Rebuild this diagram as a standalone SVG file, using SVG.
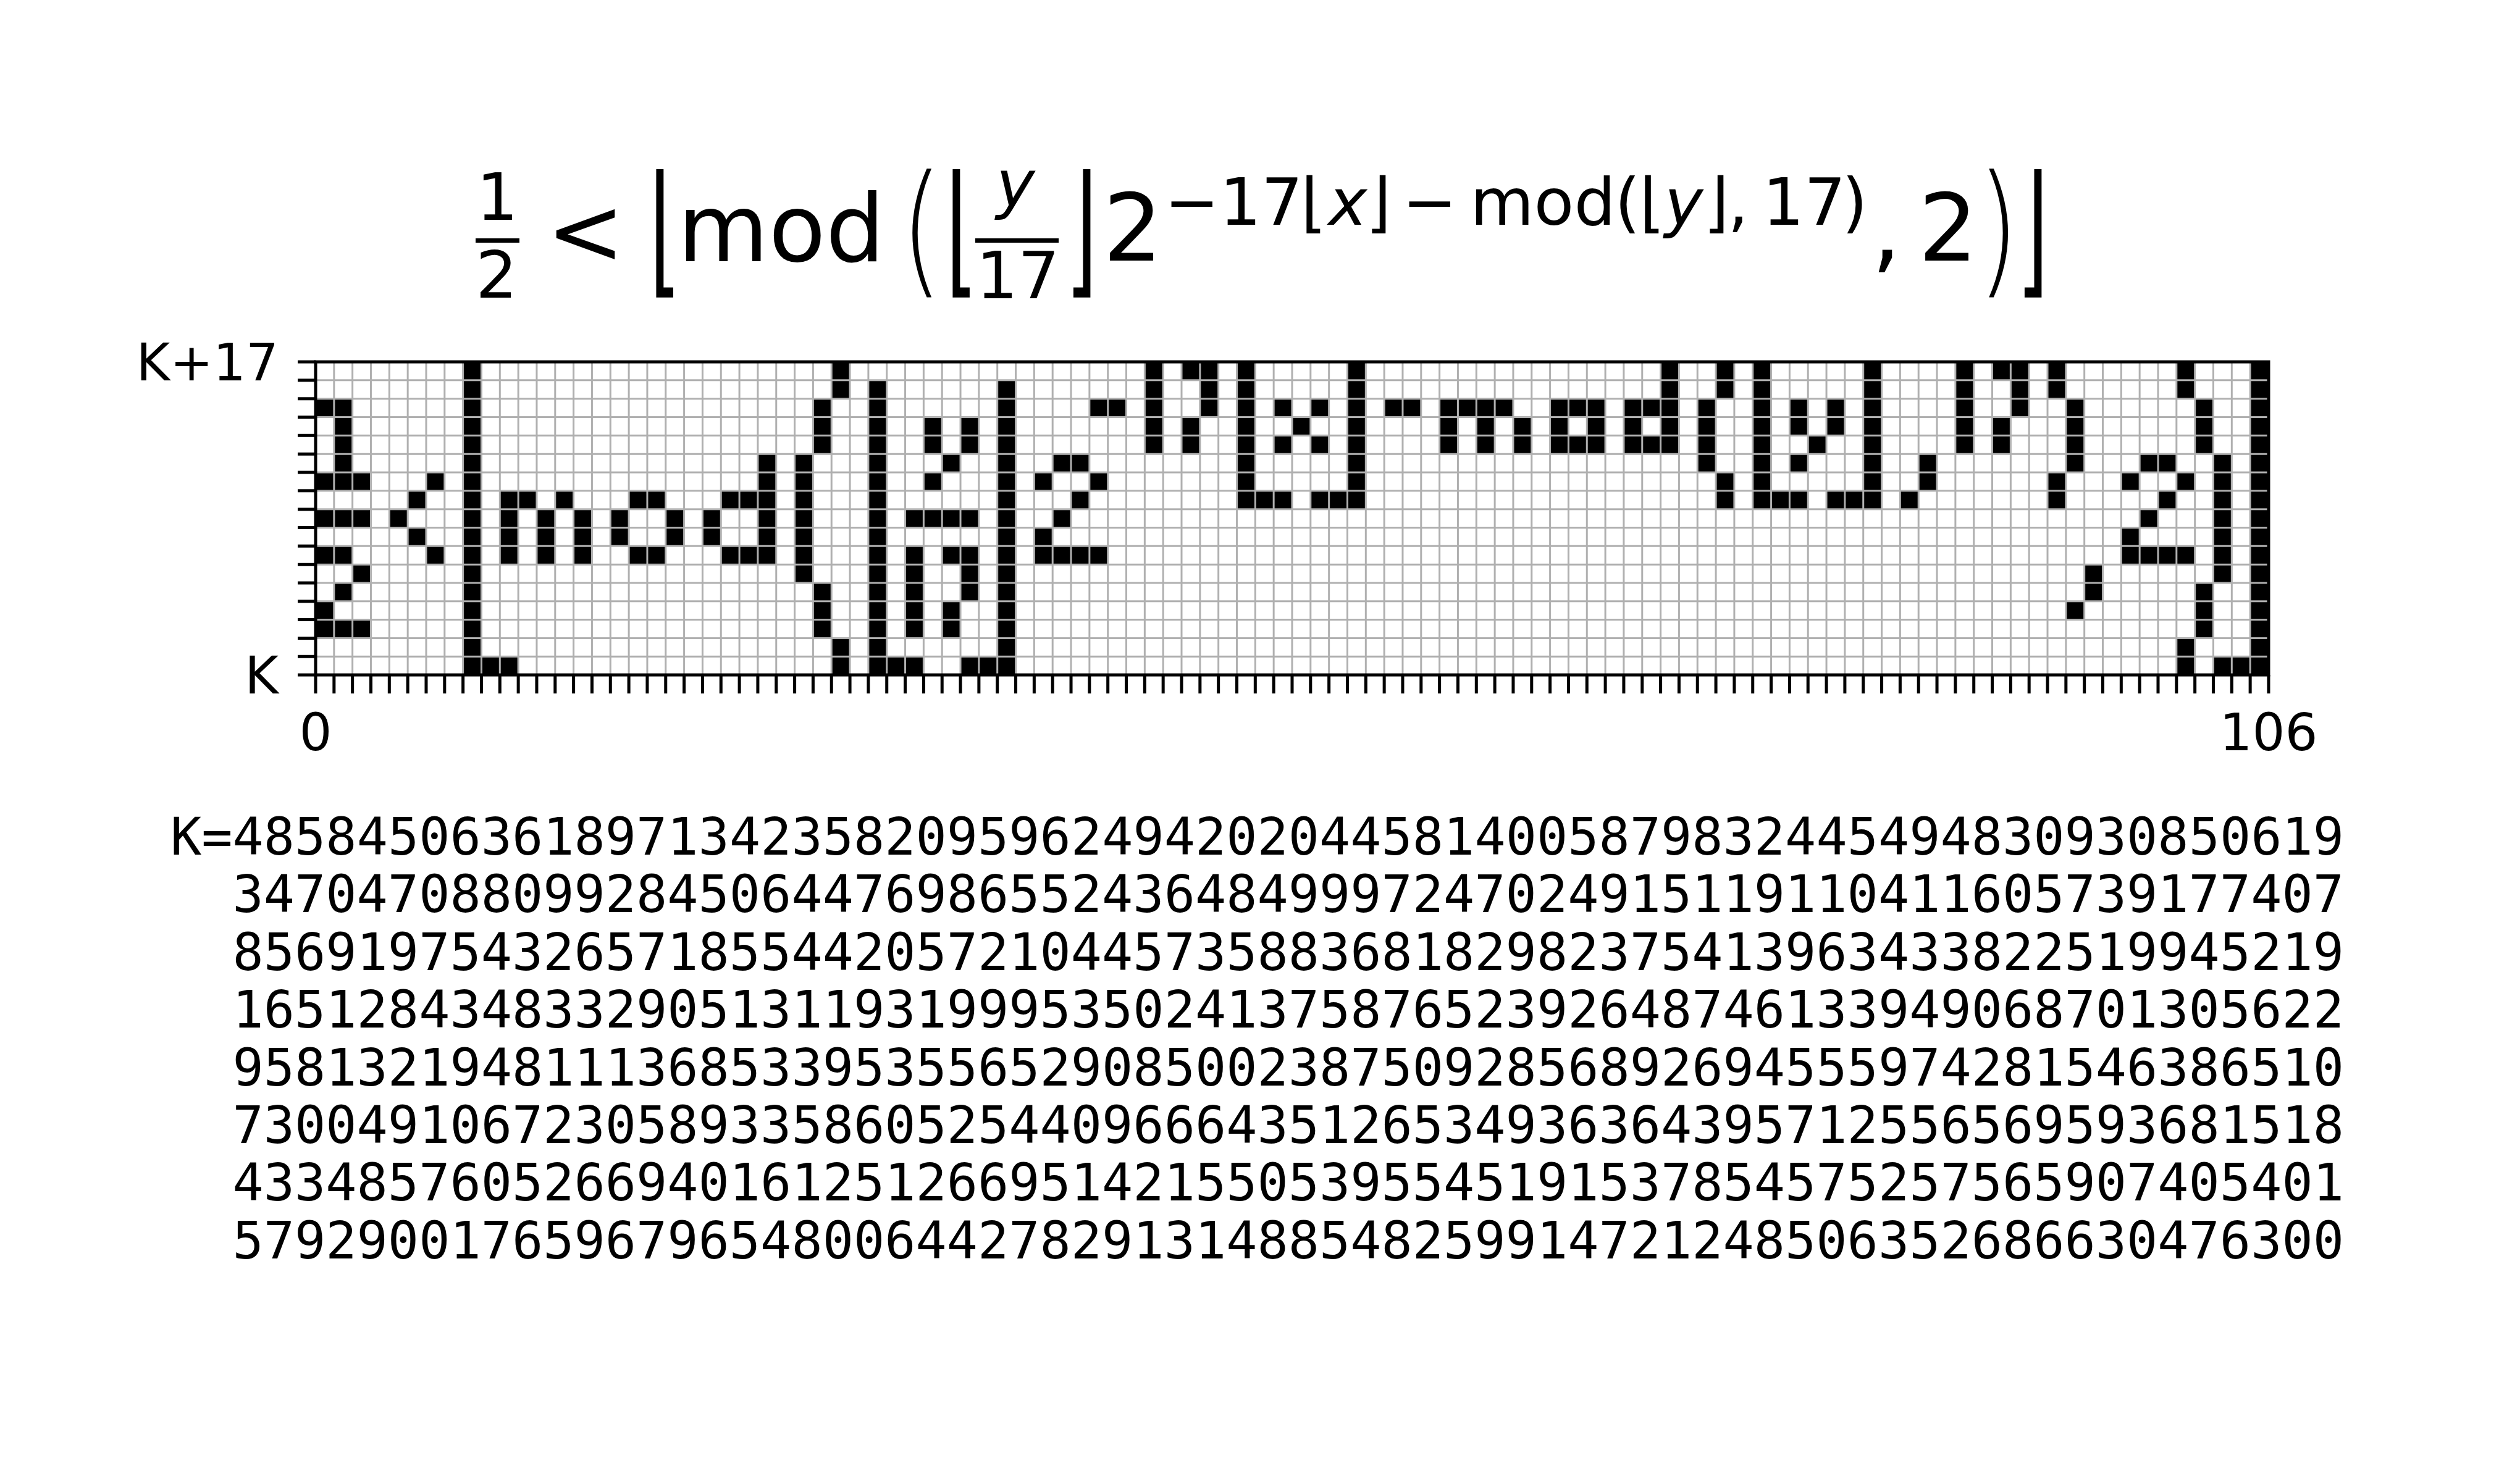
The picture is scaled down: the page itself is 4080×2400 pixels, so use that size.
<svg xmlns="http://www.w3.org/2000/svg" width="4080" height="2400" viewBox="0 0 4080 2400">
<style>
.m{font-family:"DejaVu Sans","Liberation Sans",sans-serif;fill:#000}
.F{font-size:151px}
.S{font-size:106px}
.i{font-style:italic}
.lt{font-weight:200}
.tl{font-family:"DejaVu Sans","Liberation Sans",sans-serif;font-size:83.33px;fill:#000}
.kv{font-family:"DejaVu Sans Mono","Liberation Mono",monospace;font-size:83.5px;fill:#000}
.ns{vector-effect:non-scaling-stroke}
</style>
<rect x="0" y="0" width="4080" height="2400" fill="#fff"/>
<g id="title" text-anchor="middle">
<text class="m S" x="805" y="356">1</text>
<rect x="770" y="386" width="71" height="7" fill="#000"/>
<text class="m S" x="804" y="482">2</text>
<text class="m F" x="948" y="427">&lt;</text>
<text class="m F lt" transform="translate(1077,451) scale(0.88,1.544)">⌊</text>
<text class="m F" x="1265" y="423">mod</text>
<text class="m F lt" transform="translate(1492,451) scale(1.15,1.544)">(</text>
<text class="m F lt" transform="translate(1557,451) scale(0.88,1.544)">⌊</text>
<text class="m S i" x="1644" y="334">y</text>
<rect x="1579" y="386" width="135" height="7" fill="#000"/>
<text class="m S" x="1648" y="483">17</text>
<text class="m F lt" transform="translate(1751,451) scale(0.88,1.544)">⌋</text>
<text class="m F" x="1834" y="422">2</text>
<text class="m S" x="1930" y="364">−</text>
<text class="m S" x="2042" y="364">17</text>
<text class="m S" x="2127" y="364">⌊</text>
<text class="m S i" x="2182" y="364">x</text>
<text class="m S" x="2232" y="364">⌋</text>
<text class="m S" x="2315" y="364">−</text>
<text class="m S" x="2498" y="364">mod</text>
<text class="m S" x="2635" y="364">(</text>
<text class="m S" x="2675" y="364">⌊</text>
<text class="m S i" x="2726" y="364">y</text>
<text class="m S" x="2779" y="364">⌋</text>
<text class="m S" x="2814" y="364">,</text>
<text class="m S" x="2921" y="364">17</text>
<text class="m S" x="3003" y="364">)</text>
<text class="m F" x="3054" y="423">,</text>
<text class="m F" x="3154" y="422">2</text>
<text class="m F lt" transform="translate(3235,451) scale(1.15,1.544)">)</text>
<text class="m F lt" transform="translate(3291,451) scale(0.88,1.544)">⌋</text>
</g>
<g id="plot" transform="translate(511,586) scale(29.83)">
<g id="cells" fill="#000">
<rect x="8" y="0" width="1" height="1"/><rect x="28" y="0" width="1" height="1"/><rect x="45" y="0" width="1" height="1"/><rect x="47" y="0" width="2" height="1"/><rect x="50" y="0" width="1" height="1"/><rect x="56" y="0" width="1" height="1"/><rect x="73" y="0" width="1" height="1"/><rect x="76" y="0" width="1" height="1"/><rect x="78" y="0" width="1" height="1"/><rect x="84" y="0" width="1" height="1"/><rect x="89" y="0" width="1" height="1"/><rect x="91" y="0" width="2" height="1"/><rect x="94" y="0" width="1" height="1"/><rect x="101" y="0" width="1" height="1"/><rect x="105" y="0" width="1" height="1"/>
<rect x="8" y="1" width="1" height="1"/><rect x="28" y="1" width="1" height="1"/><rect x="30" y="1" width="1" height="1"/><rect x="37" y="1" width="1" height="1"/><rect x="45" y="1" width="1" height="1"/><rect x="48" y="1" width="1" height="1"/><rect x="50" y="1" width="1" height="1"/><rect x="56" y="1" width="1" height="1"/><rect x="73" y="1" width="1" height="1"/><rect x="76" y="1" width="1" height="1"/><rect x="78" y="1" width="1" height="1"/><rect x="84" y="1" width="1" height="1"/><rect x="89" y="1" width="1" height="1"/><rect x="92" y="1" width="1" height="1"/><rect x="94" y="1" width="1" height="1"/><rect x="101" y="1" width="1" height="1"/><rect x="105" y="1" width="1" height="1"/>
<rect x="0" y="2" width="2" height="1"/><rect x="8" y="2" width="1" height="1"/><rect x="27" y="2" width="1" height="1"/><rect x="30" y="2" width="1" height="1"/><rect x="37" y="2" width="1" height="1"/><rect x="42" y="2" width="2" height="1"/><rect x="45" y="2" width="1" height="1"/><rect x="48" y="2" width="1" height="1"/><rect x="50" y="2" width="1" height="1"/><rect x="52" y="2" width="1" height="1"/><rect x="54" y="2" width="1" height="1"/><rect x="56" y="2" width="1" height="1"/><rect x="58" y="2" width="2" height="1"/><rect x="61" y="2" width="4" height="1"/><rect x="67" y="2" width="3" height="1"/><rect x="71" y="2" width="3" height="1"/><rect x="75" y="2" width="1" height="1"/><rect x="78" y="2" width="1" height="1"/><rect x="80" y="2" width="1" height="1"/><rect x="82" y="2" width="1" height="1"/><rect x="84" y="2" width="1" height="1"/><rect x="89" y="2" width="1" height="1"/><rect x="92" y="2" width="1" height="1"/><rect x="95" y="2" width="1" height="1"/><rect x="102" y="2" width="1" height="1"/><rect x="105" y="2" width="1" height="1"/>
<rect x="1" y="3" width="1" height="1"/><rect x="8" y="3" width="1" height="1"/><rect x="27" y="3" width="1" height="1"/><rect x="30" y="3" width="1" height="1"/><rect x="33" y="3" width="1" height="1"/><rect x="35" y="3" width="1" height="1"/><rect x="37" y="3" width="1" height="1"/><rect x="45" y="3" width="1" height="1"/><rect x="47" y="3" width="1" height="1"/><rect x="50" y="3" width="1" height="1"/><rect x="53" y="3" width="1" height="1"/><rect x="56" y="3" width="1" height="1"/><rect x="61" y="3" width="1" height="1"/><rect x="63" y="3" width="1" height="1"/><rect x="65" y="3" width="1" height="1"/><rect x="67" y="3" width="1" height="1"/><rect x="69" y="3" width="1" height="1"/><rect x="71" y="3" width="1" height="1"/><rect x="73" y="3" width="1" height="1"/><rect x="75" y="3" width="1" height="1"/><rect x="78" y="3" width="1" height="1"/><rect x="80" y="3" width="1" height="1"/><rect x="82" y="3" width="1" height="1"/><rect x="84" y="3" width="1" height="1"/><rect x="89" y="3" width="1" height="1"/><rect x="91" y="3" width="1" height="1"/><rect x="95" y="3" width="1" height="1"/><rect x="102" y="3" width="1" height="1"/><rect x="105" y="3" width="1" height="1"/>
<rect x="1" y="4" width="1" height="1"/><rect x="8" y="4" width="1" height="1"/><rect x="27" y="4" width="1" height="1"/><rect x="30" y="4" width="1" height="1"/><rect x="33" y="4" width="1" height="1"/><rect x="35" y="4" width="1" height="1"/><rect x="37" y="4" width="1" height="1"/><rect x="45" y="4" width="1" height="1"/><rect x="47" y="4" width="1" height="1"/><rect x="50" y="4" width="1" height="1"/><rect x="52" y="4" width="1" height="1"/><rect x="54" y="4" width="1" height="1"/><rect x="56" y="4" width="1" height="1"/><rect x="61" y="4" width="1" height="1"/><rect x="63" y="4" width="1" height="1"/><rect x="65" y="4" width="1" height="1"/><rect x="67" y="4" width="3" height="1"/><rect x="71" y="4" width="3" height="1"/><rect x="75" y="4" width="1" height="1"/><rect x="78" y="4" width="1" height="1"/><rect x="81" y="4" width="1" height="1"/><rect x="84" y="4" width="1" height="1"/><rect x="89" y="4" width="1" height="1"/><rect x="91" y="4" width="1" height="1"/><rect x="95" y="4" width="1" height="1"/><rect x="102" y="4" width="1" height="1"/><rect x="105" y="4" width="1" height="1"/>
<rect x="1" y="5" width="1" height="1"/><rect x="8" y="5" width="1" height="1"/><rect x="24" y="5" width="1" height="1"/><rect x="26" y="5" width="1" height="1"/><rect x="30" y="5" width="1" height="1"/><rect x="34" y="5" width="1" height="1"/><rect x="37" y="5" width="1" height="1"/><rect x="40" y="5" width="2" height="1"/><rect x="50" y="5" width="1" height="1"/><rect x="56" y="5" width="1" height="1"/><rect x="75" y="5" width="1" height="1"/><rect x="78" y="5" width="1" height="1"/><rect x="80" y="5" width="1" height="1"/><rect x="84" y="5" width="1" height="1"/><rect x="87" y="5" width="1" height="1"/><rect x="95" y="5" width="1" height="1"/><rect x="99" y="5" width="2" height="1"/><rect x="103" y="5" width="1" height="1"/><rect x="105" y="5" width="1" height="1"/>
<rect x="0" y="6" width="3" height="1"/><rect x="6" y="6" width="1" height="1"/><rect x="8" y="6" width="1" height="1"/><rect x="24" y="6" width="1" height="1"/><rect x="26" y="6" width="1" height="1"/><rect x="30" y="6" width="1" height="1"/><rect x="33" y="6" width="1" height="1"/><rect x="37" y="6" width="1" height="1"/><rect x="39" y="6" width="1" height="1"/><rect x="42" y="6" width="1" height="1"/><rect x="50" y="6" width="1" height="1"/><rect x="56" y="6" width="1" height="1"/><rect x="76" y="6" width="1" height="1"/><rect x="78" y="6" width="1" height="1"/><rect x="84" y="6" width="1" height="1"/><rect x="87" y="6" width="1" height="1"/><rect x="94" y="6" width="1" height="1"/><rect x="98" y="6" width="1" height="1"/><rect x="101" y="6" width="1" height="1"/><rect x="103" y="6" width="1" height="1"/><rect x="105" y="6" width="1" height="1"/>
<rect x="5" y="7" width="1" height="1"/><rect x="8" y="7" width="1" height="1"/><rect x="10" y="7" width="2" height="1"/><rect x="13" y="7" width="1" height="1"/><rect x="17" y="7" width="2" height="1"/><rect x="22" y="7" width="3" height="1"/><rect x="26" y="7" width="1" height="1"/><rect x="30" y="7" width="1" height="1"/><rect x="37" y="7" width="1" height="1"/><rect x="41" y="7" width="1" height="1"/><rect x="50" y="7" width="3" height="1"/><rect x="54" y="7" width="3" height="1"/><rect x="76" y="7" width="1" height="1"/><rect x="78" y="7" width="3" height="1"/><rect x="82" y="7" width="3" height="1"/><rect x="86" y="7" width="1" height="1"/><rect x="94" y="7" width="1" height="1"/><rect x="100" y="7" width="1" height="1"/><rect x="103" y="7" width="1" height="1"/><rect x="105" y="7" width="1" height="1"/>
<rect x="0" y="8" width="3" height="1"/><rect x="4" y="8" width="1" height="1"/><rect x="8" y="8" width="1" height="1"/><rect x="10" y="8" width="1" height="1"/><rect x="12" y="8" width="1" height="1"/><rect x="14" y="8" width="1" height="1"/><rect x="16" y="8" width="1" height="1"/><rect x="19" y="8" width="1" height="1"/><rect x="21" y="8" width="1" height="1"/><rect x="24" y="8" width="1" height="1"/><rect x="26" y="8" width="1" height="1"/><rect x="30" y="8" width="1" height="1"/><rect x="32" y="8" width="4" height="1"/><rect x="37" y="8" width="1" height="1"/><rect x="40" y="8" width="1" height="1"/><rect x="99" y="8" width="1" height="1"/><rect x="103" y="8" width="1" height="1"/><rect x="105" y="8" width="1" height="1"/>
<rect x="5" y="9" width="1" height="1"/><rect x="8" y="9" width="1" height="1"/><rect x="10" y="9" width="1" height="1"/><rect x="12" y="9" width="1" height="1"/><rect x="14" y="9" width="1" height="1"/><rect x="16" y="9" width="1" height="1"/><rect x="19" y="9" width="1" height="1"/><rect x="21" y="9" width="1" height="1"/><rect x="24" y="9" width="1" height="1"/><rect x="26" y="9" width="1" height="1"/><rect x="30" y="9" width="1" height="1"/><rect x="37" y="9" width="1" height="1"/><rect x="39" y="9" width="1" height="1"/><rect x="98" y="9" width="1" height="1"/><rect x="103" y="9" width="1" height="1"/><rect x="105" y="9" width="1" height="1"/>
<rect x="0" y="10" width="2" height="1"/><rect x="6" y="10" width="1" height="1"/><rect x="8" y="10" width="1" height="1"/><rect x="10" y="10" width="1" height="1"/><rect x="12" y="10" width="1" height="1"/><rect x="14" y="10" width="1" height="1"/><rect x="17" y="10" width="2" height="1"/><rect x="22" y="10" width="3" height="1"/><rect x="26" y="10" width="1" height="1"/><rect x="30" y="10" width="1" height="1"/><rect x="32" y="10" width="1" height="1"/><rect x="34" y="10" width="2" height="1"/><rect x="37" y="10" width="1" height="1"/><rect x="39" y="10" width="4" height="1"/><rect x="98" y="10" width="4" height="1"/><rect x="103" y="10" width="1" height="1"/><rect x="105" y="10" width="1" height="1"/>
<rect x="2" y="11" width="1" height="1"/><rect x="8" y="11" width="1" height="1"/><rect x="26" y="11" width="1" height="1"/><rect x="30" y="11" width="1" height="1"/><rect x="32" y="11" width="1" height="1"/><rect x="35" y="11" width="1" height="1"/><rect x="37" y="11" width="1" height="1"/><rect x="96" y="11" width="1" height="1"/><rect x="103" y="11" width="1" height="1"/><rect x="105" y="11" width="1" height="1"/>
<rect x="1" y="12" width="1" height="1"/><rect x="8" y="12" width="1" height="1"/><rect x="27" y="12" width="1" height="1"/><rect x="30" y="12" width="1" height="1"/><rect x="32" y="12" width="1" height="1"/><rect x="35" y="12" width="1" height="1"/><rect x="37" y="12" width="1" height="1"/><rect x="96" y="12" width="1" height="1"/><rect x="102" y="12" width="1" height="1"/><rect x="105" y="12" width="1" height="1"/>
<rect x="0" y="13" width="1" height="1"/><rect x="8" y="13" width="1" height="1"/><rect x="27" y="13" width="1" height="1"/><rect x="30" y="13" width="1" height="1"/><rect x="32" y="13" width="1" height="1"/><rect x="34" y="13" width="1" height="1"/><rect x="37" y="13" width="1" height="1"/><rect x="95" y="13" width="1" height="1"/><rect x="102" y="13" width="1" height="1"/><rect x="105" y="13" width="1" height="1"/>
<rect x="0" y="14" width="3" height="1"/><rect x="8" y="14" width="1" height="1"/><rect x="27" y="14" width="1" height="1"/><rect x="30" y="14" width="1" height="1"/><rect x="32" y="14" width="1" height="1"/><rect x="34" y="14" width="1" height="1"/><rect x="37" y="14" width="1" height="1"/><rect x="102" y="14" width="1" height="1"/><rect x="105" y="14" width="1" height="1"/>
<rect x="8" y="15" width="1" height="1"/><rect x="28" y="15" width="1" height="1"/><rect x="30" y="15" width="1" height="1"/><rect x="37" y="15" width="1" height="1"/><rect x="101" y="15" width="1" height="1"/><rect x="105" y="15" width="1" height="1"/>
<rect x="8" y="16" width="3" height="1"/><rect x="28" y="16" width="1" height="1"/><rect x="30" y="16" width="3" height="1"/><rect x="35" y="16" width="3" height="1"/><rect x="101" y="16" width="1" height="1"/><rect x="103" y="16" width="3" height="1"/>
</g>
<path id="grid" class="ns" fill="none" stroke="#b0b0b0" stroke-width="3" d="M1 0V17M2 0V17M3 0V17M4 0V17M5 0V17M6 0V17M7 0V17M8 0V17M9 0V17M10 0V17M11 0V17M12 0V17M13 0V17M14 0V17M15 0V17M16 0V17M17 0V17M18 0V17M19 0V17M20 0V17M21 0V17M22 0V17M23 0V17M24 0V17M25 0V17M26 0V17M27 0V17M28 0V17M29 0V17M30 0V17M31 0V17M32 0V17M33 0V17M34 0V17M35 0V17M36 0V17M37 0V17M38 0V17M39 0V17M40 0V17M41 0V17M42 0V17M43 0V17M44 0V17M45 0V17M46 0V17M47 0V17M48 0V17M49 0V17M50 0V17M51 0V17M52 0V17M53 0V17M54 0V17M55 0V17M56 0V17M57 0V17M58 0V17M59 0V17M60 0V17M61 0V17M62 0V17M63 0V17M64 0V17M65 0V17M66 0V17M67 0V17M68 0V17M69 0V17M70 0V17M71 0V17M72 0V17M73 0V17M74 0V17M75 0V17M76 0V17M77 0V17M78 0V17M79 0V17M80 0V17M81 0V17M82 0V17M83 0V17M84 0V17M85 0V17M86 0V17M87 0V17M88 0V17M89 0V17M90 0V17M91 0V17M92 0V17M93 0V17M94 0V17M95 0V17M96 0V17M97 0V17M98 0V17M99 0V17M100 0V17M101 0V17M102 0V17M103 0V17M104 0V17M105 0V17M0 1H106M0 2H106M0 3H106M0 4H106M0 5H106M0 6H106M0 7H106M0 8H106M0 9H106M0 10H106M0 11H106M0 12H106M0 13H106M0 14H106M0 15H106M0 16H106"/>
<path id="ticks" class="ns" fill="none" stroke="#000" stroke-width="5" d="M0 17v1.006M1 17v1.006M2 17v1.006M3 17v1.006M4 17v1.006M5 17v1.006M6 17v1.006M7 17v1.006M8 17v1.006M9 17v1.006M10 17v1.006M11 17v1.006M12 17v1.006M13 17v1.006M14 17v1.006M15 17v1.006M16 17v1.006M17 17v1.006M18 17v1.006M19 17v1.006M20 17v1.006M21 17v1.006M22 17v1.006M23 17v1.006M24 17v1.006M25 17v1.006M26 17v1.006M27 17v1.006M28 17v1.006M29 17v1.006M30 17v1.006M31 17v1.006M32 17v1.006M33 17v1.006M34 17v1.006M35 17v1.006M36 17v1.006M37 17v1.006M38 17v1.006M39 17v1.006M40 17v1.006M41 17v1.006M42 17v1.006M43 17v1.006M44 17v1.006M45 17v1.006M46 17v1.006M47 17v1.006M48 17v1.006M49 17v1.006M50 17v1.006M51 17v1.006M52 17v1.006M53 17v1.006M54 17v1.006M55 17v1.006M56 17v1.006M57 17v1.006M58 17v1.006M59 17v1.006M60 17v1.006M61 17v1.006M62 17v1.006M63 17v1.006M64 17v1.006M65 17v1.006M66 17v1.006M67 17v1.006M68 17v1.006M69 17v1.006M70 17v1.006M71 17v1.006M72 17v1.006M73 17v1.006M74 17v1.006M75 17v1.006M76 17v1.006M77 17v1.006M78 17v1.006M79 17v1.006M80 17v1.006M81 17v1.006M82 17v1.006M83 17v1.006M84 17v1.006M85 17v1.006M86 17v1.006M87 17v1.006M88 17v1.006M89 17v1.006M90 17v1.006M91 17v1.006M92 17v1.006M93 17v1.006M94 17v1.006M95 17v1.006M96 17v1.006M97 17v1.006M98 17v1.006M99 17v1.006M100 17v1.006M101 17v1.006M102 17v1.006M103 17v1.006M104 17v1.006M105 17v1.006M106 17v1.006M0 0h-0.972M0 1h-0.972M0 2h-0.972M0 3h-0.972M0 4h-0.972M0 5h-0.972M0 6h-0.972M0 7h-0.972M0 8h-0.972M0 9h-0.972M0 10h-0.972M0 11h-0.972M0 12h-0.972M0 13h-0.972M0 14h-0.972M0 15h-0.972M0 16h-0.972M0 17h-0.972"/>
<rect id="frame" class="ns" x="0" y="0" width="106" height="17" fill="none" stroke="#000" stroke-width="5"/>
</g>
<g id="axis-labels" class="tl">
<text x="451" y="616" text-anchor="end">K+17</text>
<text x="451" y="1123" text-anchor="end">K</text>
<text x="511" y="1215" text-anchor="middle">0</text>
<text x="3673" y="1215" text-anchor="middle">106</text>
</g>
<g id="k-value" class="kv">
<text x="276" y="1384">K=48584506361897134235820959624942020445814005879832445494830930850619</text>
<text x="376.5" y="1477.4">34704708809928450644769865524364849997247024915119110411605739177407</text>
<text x="376.5" y="1570.8">85691975432657185544205721044573588368182982375413963433822519945219</text>
<text x="376.5" y="1664.2">16512843483329051311931999535024137587652392648746133949068701305622</text>
<text x="376.5" y="1757.6">95813219481113685339535565290850023875092856892694555974281546386510</text>
<text x="376.5" y="1851">73004910672305893358605254409666435126534936364395712556569593681518</text>
<text x="376.5" y="1944.4">43348576052669401612512669514215505395545191537854575257565907405401</text>
<text x="376.5" y="2037.8">57929001765967965480064427829131488548259914721248506352686630476300</text>
</g>
</svg>
